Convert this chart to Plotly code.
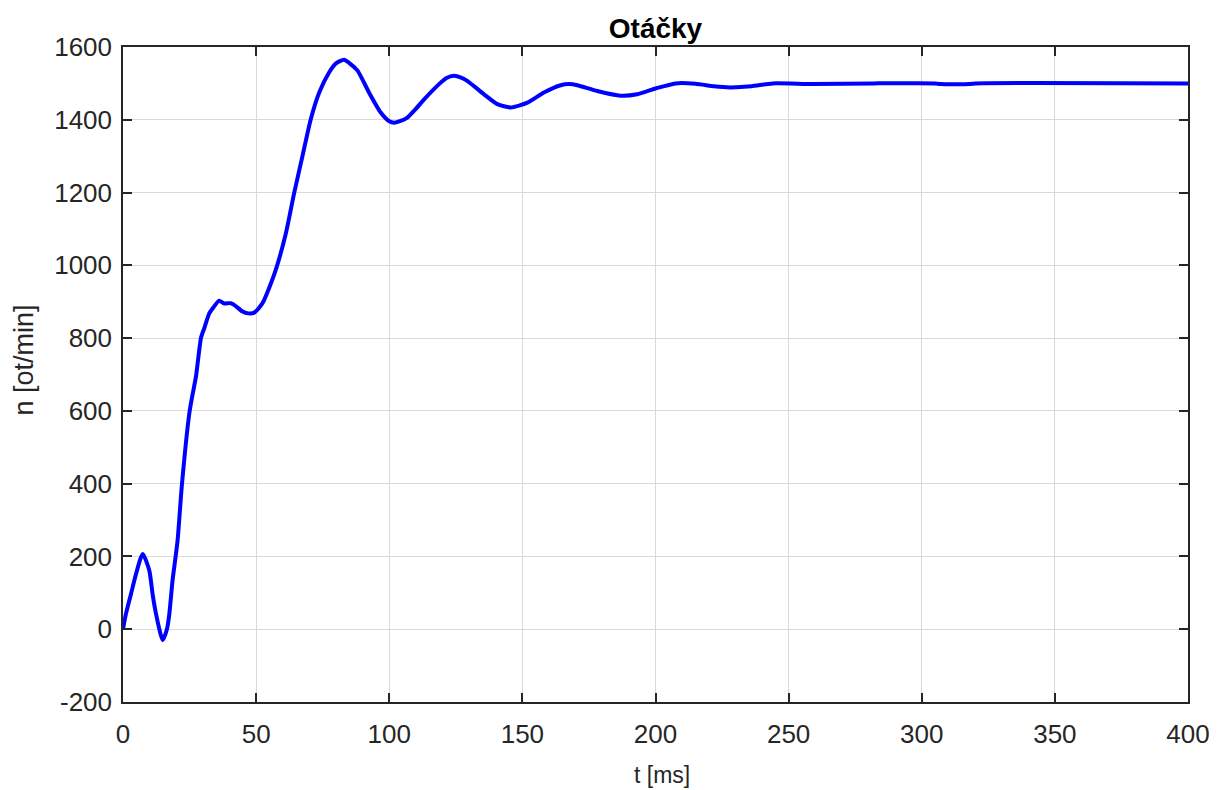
import plotly.graph_objects as go

t_ms = [0, 1.1, 3, 4.9, 7.4, 9.9, 11.1, 12.4, 14.9, 16.5, 17.4, 18.6, 20.5, 22.1, 24.9, 26, 27.4,
        29.3, 30.5, 32.4, 34, 36.1, 38, 40.5, 42, 44.9, 47, 49.3, 52.4, 55, 57.4, 61.2, 64.3,
        67.4, 70.5, 73.7, 77.4, 80, 83, 85.5, 88.1, 92.4, 96.8, 100, 101.8, 104, 106.8, 110,
        113.1, 118.7, 121.5, 124.3, 127, 129.3, 135.6, 140.6, 145.6, 151.9, 158.1, 164.4,
        167.5, 170.6, 178.1, 186.9, 193.1, 200, 207.5, 215, 222, 228, 236, 244, 259, 282,
        305, 307, 318, 320, 400]
n_rpm = [0, 42, 97, 152, 207, 161, 97, 42, -30, 0, 42, 133, 244, 395, 593, 640, 694,
         801, 827, 868, 885, 903, 895, 896, 890, 873, 868, 870, 896, 940, 988, 1089, 1199,
         1300, 1401, 1475, 1530, 1555, 1565, 1553, 1535, 1475, 1420, 1396, 1392, 1396, 1406, 1430,
         1456, 1498, 1515, 1521, 1516, 1507, 1470, 1443, 1434, 1447, 1475, 1495,
         1498, 1495, 1479, 1466, 1470, 1486, 1500, 1499, 1492, 1489, 1492, 1500, 1498, 1500,
         1500, 1498, 1498, 1500, 1500]

x_ticks = [0, 50, 100, 150, 200, 250, 300, 350, 400]
y_ticks = [-200, 0, 200, 400, 600, 800, 1000, 1200, 1400, 1600]

title_text = "Otáčky"
x_label = "t [ms]"
y_label = "n [ot/min]"

FONT = "Liberation Sans, Arial, Helvetica, sans-serif"
AX = "#262626"

fig = go.Figure()
fig.add_trace(go.Scatter(x=t_ms, y=n_rpm, mode="lines",
                         line=dict(color="#0000FF", width=4, shape="spline", smoothing=0.6),
                         showlegend=False, hoverinfo="skip"))

axis_common = dict(
    showline=True, linecolor=AX, linewidth=1.5, mirror="ticks",
    ticks="inside", ticklen=9, tickwidth=1.5, tickcolor=AX,
    showgrid=True, gridcolor="#D9D9D9", gridwidth=1,
    zeroline=False, tickfont=dict(family=FONT, size=26, color=AX),
)

fig.update_layout(
    width=1223, height=790,
    margin=dict(l=123, r=35, t=47, b=88),
    paper_bgcolor="white", plot_bgcolor="white",
    title=dict(text="<b>" + title_text + "</b>", x=0.5, xref="paper", xanchor="center",
               y=1, yref="paper", yanchor="bottom", pad=dict(b=9),
               font=dict(family=FONT, size=28, color="black")),
    xaxis=dict(range=[0, 400], tickvals=x_ticks, ticktext=[str(v) for v in x_ticks],
               ticklabelstandoff=8, **axis_common),
    yaxis=dict(range=[-200, 1600], tickvals=y_ticks, ticktext=[str(v) for v in y_ticks],
               ticklabelstandoff=4, **axis_common),
    annotations=[
        dict(text=x_label, xref="paper", yref="paper", x=0.5065, y=-0.111,
             xanchor="center", yanchor="middle", showarrow=False,
             font=dict(family=FONT, size=23, color=AX)),
        dict(text=y_label, xref="paper", yref="paper", x=-0.0925, y=0.522,
             xanchor="center", yanchor="middle", showarrow=False, textangle=-90,
             font=dict(family=FONT, size=27, color=AX)),
    ],
)

fig.write_html("out.html")
